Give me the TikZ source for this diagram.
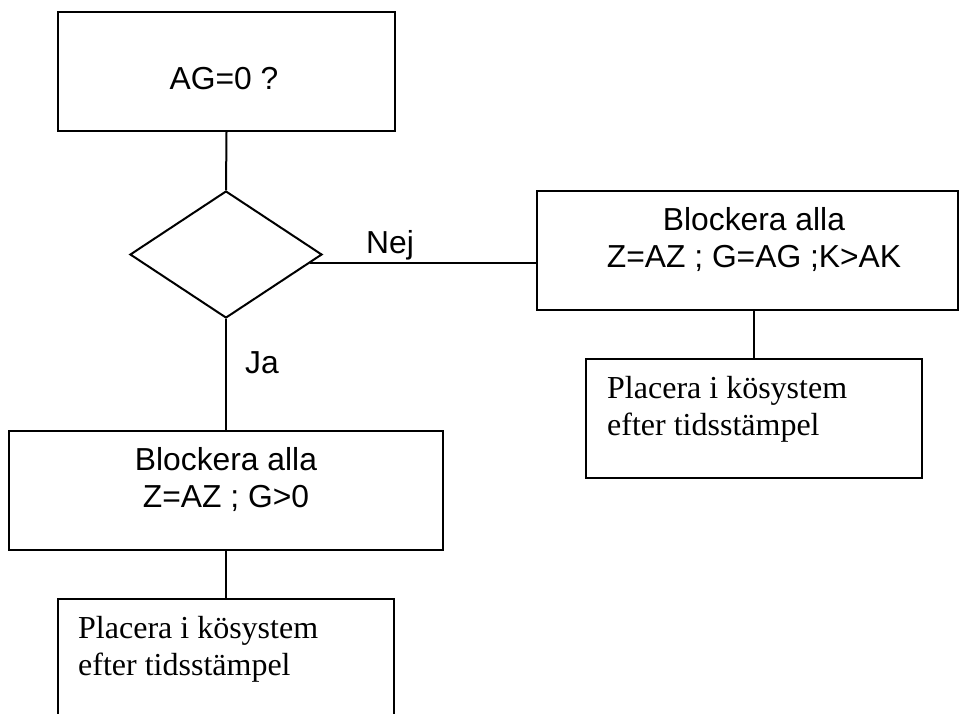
\documentclass[tikz,border=0pt]{standalone}
\usepackage{fontspec}
\setmainfont{Liberation Serif}
\setsansfont{Liberation Sans}
\usetikzlibrary{shapes.geometric,calc}
\begin{document}
\begin{tikzpicture}[x=1pt,y=-1pt,
  box/.style={draw=black,line width=2pt,rectangle,inner sep=0pt,minimum height=119pt},
  sanstext/.style={font=\sffamily\fontsize{31.8}{37}\selectfont,inner sep=0pt,align=center,anchor=base},
  seriftext/.style={font=\rmfamily\fontsize{32}{37}\selectfont,inner sep=0pt,align=left,anchor=base west},
  conn/.style={draw=black,line width=2pt}]
\useasboundingbox (0,0) rectangle (959,713);
\clip (0,0) rectangle (959,713);
% boxes
\node[box,minimum width=337pt] (top) at (226.5,71.5) {};
\node[shape=diamond,draw=black,line width=2pt,inner sep=0pt,minimum width=192pt,minimum height=127pt] (dia) at (226,254.5) {};
\node[box,minimum width=421pt] (rbox) at (747.5,250.5) {};
\node[box,minimum width=336pt] (rsmall) at (754,418.5) {};
\node[box,minimum width=434pt] (lbox) at (226,490.5) {};
\node[box,minimum width=336pt] (bsmall) at (226,658.5) {};
% texts (base anchor = last line's baseline)
\node[sanstext] (ttop) at (224,89) {AG=0 ?};
\node[sanstext] (trbox) at (754,267) {Blockera alla\\Z=AZ ; G=AG ;K>AK};
\node[sanstext] (tlbox) at (226,507) {Blockera alla\\Z=AZ ; G>0};
\node[seriftext] (trsmall) at (607,435) {Placera i kösystem\\efter tidsstämpel};
\node[seriftext] (tbsmall) at (78,675) {Placera i kösystem\\efter tidsstämpel};
\node[sanstext] (nej) at (390,253) {Nej};
\node[sanstext] (ja) at (262,373) {Ja};
% connectors
\coordinate (nejpt) at ($(dia.east)!0.134!(dia.south)$);
\draw[conn] (top.south) -- (dia.north);
\draw[conn] (dia.south) -- (lbox.north);
\draw[conn] (nejpt) -- (nejpt -| rbox.west);
\draw[conn] (rsmall.north |- rbox.south) -- (rsmall.north);
\draw[conn] (lbox.south) -- (bsmall.north);
\end{tikzpicture}
\end{document}
